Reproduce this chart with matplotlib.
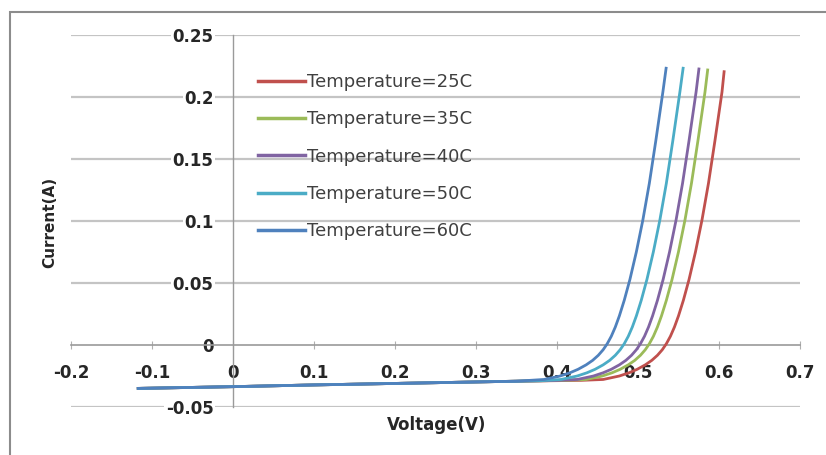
import matplotlib.pyplot as plt
from matplotlib.patches import Rectangle

# shared reverse / low-bias part of every curve
v_base = [-0.117, 0.0, 0.1, 0.2, 0.3, 0.35]
i_base = [-0.035, -0.0336, -0.0322, -0.031, -0.0298, -0.0292]

# knee + forward part for each temperature
v_25 = [0.43, 0.457, 0.477, 0.489, 0.499, 0.509, 0.517, 0.524, 0.530, 0.535, 0.540,
        0.545, 0.550, 0.556, 0.563, 0.571, 0.579, 0.587, 0.595, 0.6037, 0.6063]
i_25 = [-0.0285, -0.0278, -0.0250, -0.0224, -0.0196, -0.0160, -0.0124, -0.0083, -0.0038,
        0.0010, 0.0070, 0.0145, 0.0235, 0.0360, 0.0528, 0.0752, 0.1008, 0.1304, 0.1648,
        0.2040, 0.2204]
v_35 = [0.41, 0.436, 0.456, 0.468, 0.478, 0.488, 0.496, 0.503, 0.509, 0.514, 0.519,
        0.524, 0.529, 0.535, 0.542, 0.550, 0.558, 0.566, 0.574, 0.5827, 0.586]
i_35 = [-0.0285, -0.0278, -0.0250, -0.0224, -0.0196, -0.0160, -0.0124, -0.0083, -0.0038,
        0.0010, 0.0070, 0.0145, 0.0235, 0.0360, 0.0528, 0.0752, 0.1008, 0.1304, 0.1648,
        0.2040, 0.2218]
v_40 = [0.40, 0.425, 0.445, 0.457, 0.467, 0.477, 0.485, 0.492, 0.498, 0.503, 0.508,
        0.513, 0.518, 0.524, 0.531, 0.539, 0.547, 0.555, 0.563, 0.5717, 0.5752]
i_40 = [-0.0286, -0.0278, -0.0250, -0.0224, -0.0196, -0.0160, -0.0124, -0.0083, -0.0038,
        0.0010, 0.0070, 0.0145, 0.0235, 0.0360, 0.0528, 0.0752, 0.1008, 0.1304, 0.1648,
        0.2040, 0.2226]
v_50 = [0.38, 0.405, 0.425, 0.437, 0.447, 0.457, 0.465, 0.472, 0.478, 0.483, 0.488,
        0.493, 0.498, 0.504, 0.511, 0.519, 0.527, 0.535, 0.543, 0.5517, 0.5557]
i_50 = [-0.0288, -0.0278, -0.0250, -0.0224, -0.0196, -0.0160, -0.0124, -0.0083, -0.0038,
        0.0010, 0.0070, 0.0145, 0.0235, 0.0360, 0.0528, 0.0752, 0.1008, 0.1304, 0.1648,
        0.2040, 0.2232]
v_60 = [0.384, 0.404, 0.416, 0.426, 0.436, 0.444, 0.451, 0.457, 0.462, 0.467, 0.472,
        0.477, 0.483, 0.490, 0.498, 0.506, 0.514, 0.522, 0.5307, 0.5347]
i_60 = [-0.0278, -0.0250, -0.0224, -0.0196, -0.0160, -0.0124, -0.0083, -0.0038, 0.0010,
        0.0070, 0.0145, 0.0235, 0.0360, 0.0528, 0.0752, 0.1008, 0.1304, 0.1648, 0.2040,
        0.2232]

labels = ["Temperature=25C", "Temperature=35C", "Temperature=40C",
          "Temperature=50C", "Temperature=60C"]
colors = ["#C0504D", "#9BBB59", "#8064A2", "#4BACC6", "#4F81BD"]

x_ticks = [-0.2, -0.1, 0, 0.1, 0.2, 0.3, 0.4, 0.5, 0.6, 0.7]
y_ticks = [-0.05, 0, 0.05, 0.1, 0.15, 0.2, 0.25]

fig = plt.figure(figsize=(8.26, 4.55), dpi=100)
ax = fig.add_axes([71 / 826, 48 / 455, 729 / 826, 372 / 455])

# chart border (Excel chart area), runs off the right and bottom edge
fig.patches.append(Rectangle((10 / 826, -0.2), 1.2, 1.2 - 12 / 455,
                             transform=fig.transFigure, fill=False,
                             edgecolor="#8c8c8c", linewidth=1.5))

for y in y_ticks:
    if y != 0:
        ax.axhline(y, color="#c4c4c4", linewidth=1.6, zorder=0)

series = [(v_25, i_25), (v_35, i_35), (v_40, i_40), (v_50, i_50), (v_60, i_60)]
for (v, i), lab, col in zip(series, labels, colors):
    ax.plot(v_base + v, i_base + i, color=col, linewidth=2.0, label=lab,
            solid_joinstyle="round", zorder=3)

ax.set_xlim(-0.2, 0.7)
ax.set_ylim(-0.05, 0.25)

for side in ["top", "right"]:
    ax.spines[side].set_visible(False)
ax.spines["left"].set_position(("data", 0))
ax.spines["bottom"].set_position(("data", 0))
ax.spines["left"].set_color("#9a9a9a")
ax.spines["bottom"].set_color("#9a9a9a")
ax.spines["left"].set_linewidth(1.0)
ax.spines["bottom"].set_linewidth(1.2)

ax.set_xticks(x_ticks)
ax.set_xticklabels([f"{t:g}" for t in x_ticks])
ax.set_yticks(y_ticks)
ax.set_yticklabels([f"{t:g}" for t in y_ticks])
ax.tick_params(axis="x", direction="inout", length=6, color="#b0b0b0", pad=11,
               labelsize=12)
ax.tick_params(axis="y", length=0, pad=14, labelsize=12)
for lab in ax.get_xticklabels() + ax.get_yticklabels():
    lab.set_fontweight("bold")
    lab.set_color("#262626")
for lab in ax.get_yticklabels():
    lab.set_bbox(dict(facecolor="white", edgecolor="none", pad=1))

fig.text(437 / 826, 1 - 425 / 455, "Voltage(V)", ha="center", va="center",
         fontsize=12, fontweight="bold", color="#262626")
fig.text(50 / 826, 1 - 222 / 455, "Current(A)", ha="center", va="center",
         rotation=90, fontsize=11, fontweight="bold", color="#262626")

leg = ax.legend(loc="upper left", bbox_to_anchor=(258 / 826, 1 - 73 / 455),
                bbox_transform=fig.transFigure, frameon=False, fontsize=13,
                handlelength=2.6, handletextpad=0.1, labelspacing=1.07,
                borderpad=0, borderaxespad=0)
for t in leg.get_texts():
    t.set_color("#404040")
for h in leg.get_lines():
    h.set_linewidth(2.5)

fig.savefig("out.png", dpi=100)
